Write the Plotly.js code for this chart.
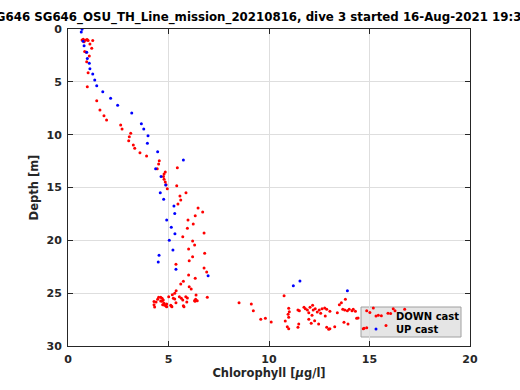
<!DOCTYPE html>
<html><head><meta charset="utf-8">
<script src="https://cdn.plot.ly/plotly-3.0.1.min.js"></script>
<style>html,body{margin:0;padding:0;background:#fff;}#plot{width:520px;height:390px;}</style>
</head><body><div id="plot"></div>
<script>
// DOWN cast (red)
var downChl = [0.70,0.76,0.82,0.90,0.95,1.00,1.23,0.80,1.09,1.18,0.83,0.91,1.06,0.93,1.00,0.96,1.43,1.59,1.79,1.92,2.62,2.69,3.12,3.05,3.02,3.25,3.32,3.58,3.91,4.54,4.51,4.44,5.44,4.84,4.78,4.75,4.78,4.84,4.88,4.94,5.41,5.87,5.57,5.61,5.47,6.47,6.70,6.33,5.97,6.23,5.94,6.77,5.71,6.20,6.30,6.00,6.80,6.20,6.03,5.37,6.77,6.90,6.00,6.33,5.74,5.61,6.03,6.13,5.38,5.31,5.19,6.37,6.93,
 4.51,4.61,4.68,4.46,4.74,4.61,4.38,5.01,5.24,5.31,5.54,5.64,5.86,5.94,5.71,6.35,6.32,6.43,5.91,5.37,4.78,4.91,4.71,4.81,4.88,5.11,5.17,5.74,4.28,4.68,4.31,6.30,5.77,5.14,4.91,4.28,
 8.51,9.12,9.22,9.59,9.82,10.11,10.75,10.98,11.01,10.95,10.98,10.81,10.91,10.98,11.44,11.51,11.48,11.44,11.74,11.81,11.91,11.98,12.04,12.17,12.20,12.30,12.40,12.50,12.57,12.64,12.77,12.87,13.03,12.80,12.14,11.98,12.27,12.10,12.47,12.87,12.97,13.03,13.27,13.40,13.50,13.60,13.80,13.67,13.77,13.90,13.99,14.13,14.19,14.30,13.73,13.93,14.43,14.86,15.02,15.19,15.44,15.59,15.92,16.05,16.18,16.27,16.75,14.73,14.86,15.82,14.36,14.69];
var downDepth = [1.04,0.98,1.10,1.04,1.00,1.08,1.10,1.20,1.42,1.83,2.14,2.20,2.56,3.09,4.13,5.46,6.78,7.67,8.20,8.61,9.08,9.46,9.87,10.19,10.57,10.98,11.29,11.70,12.02,12.46,12.78,13.22,13.12,13.53,13.72,13.97,14.22,14.48,14.73,15.11,14.83,15.49,15.80,16.18,16.56,16.94,17.32,17.67,18.07,18.45,18.86,19.31,19.66,20.06,20.44,20.82,21.23,21.55,21.93,22.27,22.62,23.00,23.28,23.59,23.88,24.13,24.39,24.60,24.78,25.00,25.14,25.17,25.39,
 25.39,25.39,25.49,25.58,25.64,25.74,25.83,25.33,25.49,25.55,25.33,25.49,25.33,25.45,25.64,25.58,25.77,25.71,25.83,25.90,25.96,26.02,26.09,26.15,26.21,26.15,26.28,26.18,26.09,25.77,26.30,25.70,26.28,26.21,26.28,25.80,
 25.90,26.02,26.66,27.48,27.38,27.73,25.24,26.43,26.75,27.00,27.28,27.63,28.17,28.36,26.59,26.66,27.92,28.23,26.34,26.47,26.59,26.85,26.34,26.15,26.59,26.47,26.78,26.59,26.90,26.47,26.40,26.53,26.72,27.16,27.10,27.48,27.60,27.85,27.92,28.23,28.42,28.36,28.17,26.85,26.09,25.90,25.58,26.53,26.59,26.66,26.53,26.66,26.53,26.72,27.76,27.92,27.35,26.66,26.82,26.40,27.10,27.13,26.90,26.93,26.47,26.66,26.53,28.33,28.27,28.07,27.38,28.36];
// UP cast (blue)
var upChl = [0.70,0.66,0.75,0.80,0.93,0.96,1.06,1.09,1.23,1.33,1.43,1.73,2.12,2.47,3.17,3.65,3.77,3.98,3.95,4.46,5.74,4.36,4.63,4.86,4.59,4.76,5.27,5.31,4.91,5.14,5.32,5.04,5.22,4.53,4.49,5.37,6.97,11.54,11.21,13.90];
var upDepth = [0.03,0.28,1.15,1.58,2.20,2.78,3.25,3.75,4.26,4.83,5.36,5.93,6.56,7.22,7.95,8.96,9.46,10.10,10.82,11.61,12.40,13.22,13.97,14.76,15.49,16.12,16.75,17.45,18.07,18.77,19.37,20.00,20.91,21.42,22.05,22.74,23.35,23.85,24.29,24.76];
var xTicks = [0,5,10,15,20];
var yTicks = [0,5,10,15,20,25,30];
var titleText = 'SG646 SG646_OSU_TH_Line_mission_20210816, dive 3 started 16-Aug-2021 19:34:56';

var F = 'DejaVu Sans, sans-serif';
var traces = [
 {x: downChl, y: downDepth, mode: 'markers', type: 'scatter', name: 'DOWN cast', legend: 'legend',
  marker: {color: '#ff0000', size: 3}},
 {x: upChl, y: upDepth, mode: 'markers', type: 'scatter', name: 'UP cast', legend: 'legend2',
  marker: {color: '#0000ff', size: 3}}
];
var axisCommon = {
 showline: true, linecolor: '#262626', linewidth: 1, mirror: 'ticks',
 ticks: 'inside', ticklen: 5, tickcolor: '#262626',
 showgrid: true, gridcolor: '#dedede', gridwidth: 1, zeroline: false,
 tickfont: {family: F, size: 11, color: '#262626', weight: 'bold'}
};
var layout = {
 width: 520, height: 390,
 margin: {l: 68, r: 50, t: 29, b: 44},
 paper_bgcolor: '#ffffff', plot_bgcolor: '#ffffff',
 font: {family: F, color: '#262626'},
 title: {text: '<b>' + titleText + '</b>', font: {family: F, size: 11.8, color: '#000000'},
   x: 269/520, xref: 'container', xanchor: 'center', y: 1 - 17/390, yref: 'container', yanchor: 'middle'},
 xaxis: Object.assign({}, axisCommon, {range: [0, 20], tickvals: xTicks, ticktext: xTicks.map(String), ticklabelstandoff: 3,
   title: {text: '<b>Chlorophyll [<i>μ</i>g/l]</b>', font: {family: F, size: 11.5, color: '#262626'}, standoff: 3}}),
 yaxis: Object.assign({}, axisCommon, {range: [30, 0], tickvals: yTicks, ticktext: yTicks.map(String), ticklabelstandoff: 3,
   title: {text: '<b>Depth [m]</b>', font: {family: F, size: 11.5, color: '#262626'}, standoff: 5}}),
 showlegend: true,
 legend: {x: (356-68)/402, xanchor: 'left', y: 1 - (316-29)/317, yanchor: 'middle', bgcolor: 'rgba(0,0,0,0)', borderwidth: 0,
   font: {family: F, size: 10, color: '#000000', weight: 'bold'}},
 legend2: {x: (356-68)/402, xanchor: 'left', y: 1 - (329-29)/317, yanchor: 'middle', bgcolor: 'rgba(0,0,0,0)', borderwidth: 0,
   font: {family: F, size: 10, color: '#000000', weight: 'bold'}},
 shapes: [{type: 'rect', xref: 'paper', yref: 'paper', layer: 'between',
   x0: (361-68)/402, x1: (461-68)/402, y0: 1 - (337-29)/317, y1: 1 - (307-29)/317,
   fillcolor: '#e5e5e5', line: {color: '#a0a0a0', width: 1}}]
};
Plotly.newPlot('plot', traces, layout, {displayModeBar: false, staticPlot: true});
</script></body></html>
